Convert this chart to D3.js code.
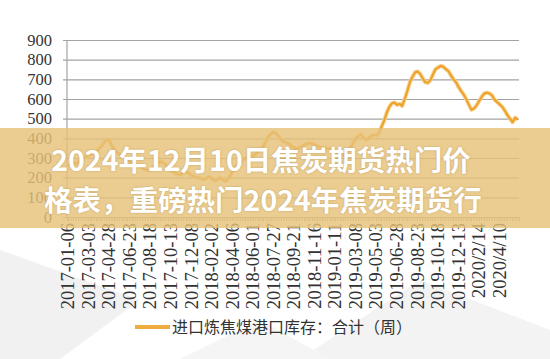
<!DOCTYPE html>
<html>
<head>
<meta charset="utf-8">
<script src="https://cdn.jsdelivr.net/npm/d3@7"></script>
<style>
  html, body { margin: 0; padding: 0; background: #ffffff; }
  svg { display: block; }
</style>
</head>
<body>
<div id="chart_div"></div>
<script>
// weekly categories, two holiday weeks missing in the source
var startDate = "2017-01-06"
var weekCount = 176
var skippedWeeks = ["2018-02-16", "2020-01-24"]

var tickLabels = ["2017-01-06", "2017-03-03", "2017-04-28", "2017-06-23", "2017-08-18", "2017-10-13",
  "2017-12-08", "2018-02-02", "2018-04-06", "2018-06-01", "2018-07-27", "2018-09-21", "2018-11-16",
  "2019-01-11", "2019-03-08", "2019-05-03", "2019-06-28", "2019-08-23", "2019-10-18", "2019-12-13",
  "2020/2/14", "2020/4/10"]
var tickEvery = 8

var yTicks = [0, 100, 200, 300, 400, 500, 600, 700, 800, 900]

// 进口炼焦煤港口库存：合计（周）
var stock = [
  262, 268, 275, 270, 282, 290, 298, 305, 312, 318,
  325, 335, 348, 362, 380, 395, 388, 362, 340, 328,
  318, 305, 298, 290, 282, 276, 268, 262, 255, 248,
  242, 236, 240, 250, 262, 275, 282, 278, 265, 250,
  236, 228, 220, 215, 218, 226, 230, 222, 212, 205,
  200, 198, 194, 190, 198, 206, 195, 184, 188, 200,
  192, 182, 190, 210, 232, 250, 268, 280, 292, 300,
  298, 305, 312, 320, 332, 345, 362, 385, 410, 425,
  432, 425, 408, 392, 382, 378, 372, 360, 352, 348,
  352, 360, 368, 372, 376, 374, 368, 360, 355, 352,
  348, 350, 345, 340, 332, 325, 318, 314, 320, 335,
  355, 378, 398, 412, 420, 405, 392, 400, 412, 418,
  415, 425, 460, 490, 530, 560, 578, 582, 570, 575,
  565, 600, 640, 685, 712, 735, 740, 728, 705, 685,
  682, 695, 725, 752, 760, 768, 764, 752, 742, 720,
  700, 685, 660, 640, 622, 598, 570, 545, 552, 568,
  590, 612, 628, 632, 628, 618, 596, 584, 572, 560,
  540, 518, 500, 482, 505, 495]

var legendText = "进口炼焦煤港口库存：合计（周）"
var titleLines = ["2024年12月10日焦炭期货热门价", "格表，重磅热门2024年焦炭期货行"]

var serifFont = "'Liberation Serif', 'Times New Roman', 'DejaVu Serif', serif"

function build_weeks() {
  var parse = d3.timeParse("%Y-%m-%d")
  var fmt = d3.timeFormat("%Y-%m-%d")
  var weeks = []
  var d = parse(startDate)
  while (weeks.length < weekCount) {
    var s = fmt(d)
    if (skippedWeeks.indexOf(s) < 0) weeks.push(s)
    d = d3.timeDay.offset(d, 7)
  }
  return weeks
}

function line_chart() {
  var weeks = build_weeks()
  var data = weeks.map((w, i) => ({ week: w, value: stock[i] }))

  var set_width = 550, set_height = 359
  var margin = {top: 40, right: 31, bottom: 142, left: 67}
  var width = set_width - margin.left - margin.right,
      height = set_height - margin.top - margin.bottom

  var svg = d3.select("#chart_div")
    .append("svg")
    .attr("width", set_width)
    .attr("height", set_height)

  // faint grey shapes of the background picture
  var bg = svg.append("g")
  bg.append("path").attr("d", "M0,250 L140,300 L60,359 L0,359 Z").attr("fill", "#f1f1f1")
  bg.append("path").attr("d", "M300,359 L420,280 L550,330 L550,359 Z").attr("fill", "#f3f3f3")
  bg.append("path").attr("d", "M180,359 L260,320 L330,359 Z").attr("fill", "#f5f5f5")

  var chart = svg.append("g")
    .attr("transform", `translate(${margin.left},${margin.top})`)

  var xScale = d3.scaleBand()
    .domain(weeks)
    .range([0, width])

  var yScale = d3.scaleLinear()
    .domain([0, 900])
    .range([height, 0])

  // grid + y axis
  var yAxis = chart.append("g")
    .call(d3.axisLeft(yScale).tickValues(yTicks).tickSize(-width - 4).tickPadding(11).tickFormat(d3.format("d")))
    .attr("transform", "translate(-4,0)")
    .attr("font-family", serifFont)
    .attr("font-size", 16.5)
  yAxis.select(".domain").remove()
  yAxis.selectAll(".tick line").attr("stroke", "#a3a3a3").attr("stroke-width", 1.2)
  yAxis.selectAll("text").attr("fill", "#333333")

  chart.append("line")
    .attr("x1", 0).attr("x2", 0)
    .attr("y1", yScale(900)).attr("y2", yScale(0))
    .attr("stroke", "#a3a3a3").attr("stroke-width", 1.2)

  // category axis
  var xAxis = chart.append("g")
    .attr("transform", "translate(0," + height + ")")
    .call(d3.axisBottom(xScale).tickSize(4).tickFormat(""))
  xAxis.select(".domain").attr("stroke", "#a3a3a3")
  xAxis.selectAll(".tick line").attr("stroke", "#a3a3a3")

  chart.append("g")
    .attr("font-family", serifFont)
    .attr("font-size", 18.5)
    .selectAll("text")
    .data(tickLabels)
    .join("text")
    .attr("transform", (d, k) => `translate(${xScale(weeks[k * tickEvery]) + xScale.bandwidth() / 2 + 6},${height + 6}) rotate(-90)`)
    .attr("text-anchor", "end")
    .attr("fill", "#333333")
    .text(d => d)

  var line = d3.line()
    .x(d => xScale(d.week) + xScale.bandwidth() / 2)
    .y(d => yScale(d.value))

  chart.append("path")
    .datum(data)
    .attr("fill", "none")
    .attr("stroke", "#f7cf8a")
    .attr("stroke-width", 4)
    .attr("stroke-linejoin", "round")
    .attr("d", line)
  chart.append("path")
    .datum(data)
    .attr("fill", "none")
    .attr("stroke", "#eda22c")
    .attr("stroke-width", 2)
    .attr("stroke-linejoin", "round")
    .attr("d", line)

  // legend
  svg.append("line")
    .attr("x1", 135).attr("x2", 170)
    .attr("y1", 327).attr("y2", 327)
    .attr("stroke", "#efab3e").attr("stroke-width", 4)
  svg.append("text")
    .attr("x", 172).attr("y", 333)
    .attr("font-family", "'Noto Sans CJK SC', sans-serif")
    .attr("font-size", 16)
    .attr("fill", "#333333")
    .text(legendText)

  // title band over the picture
  svg.append("rect")
    .attr("x", 0).attr("y", 128)
    .attr("width", set_width).attr("height", 100)
    .attr("fill", "#e6c27a")
    .attr("opacity", 0.82)

  svg.append("g")
    .selectAll("text")
    .data(titleLines)
    .join("text")
    .attr("x", (d, i) => i == 0 ? 261 : 263)
    .attr("y", (d, i) => 171 + i * 40)
    .attr("text-anchor", "middle")
    .attr("font-family", "'Noto Sans CJK SC', sans-serif")
    .attr("font-weight", 700)
    .attr("font-size", 28.5)
    .attr("fill", "#ffffff")
    .style("text-shadow", "0 0 2px rgba(150,110,40,0.5)")
    .text(d => d)
}

line_chart()
</script>
</body>
</html>
